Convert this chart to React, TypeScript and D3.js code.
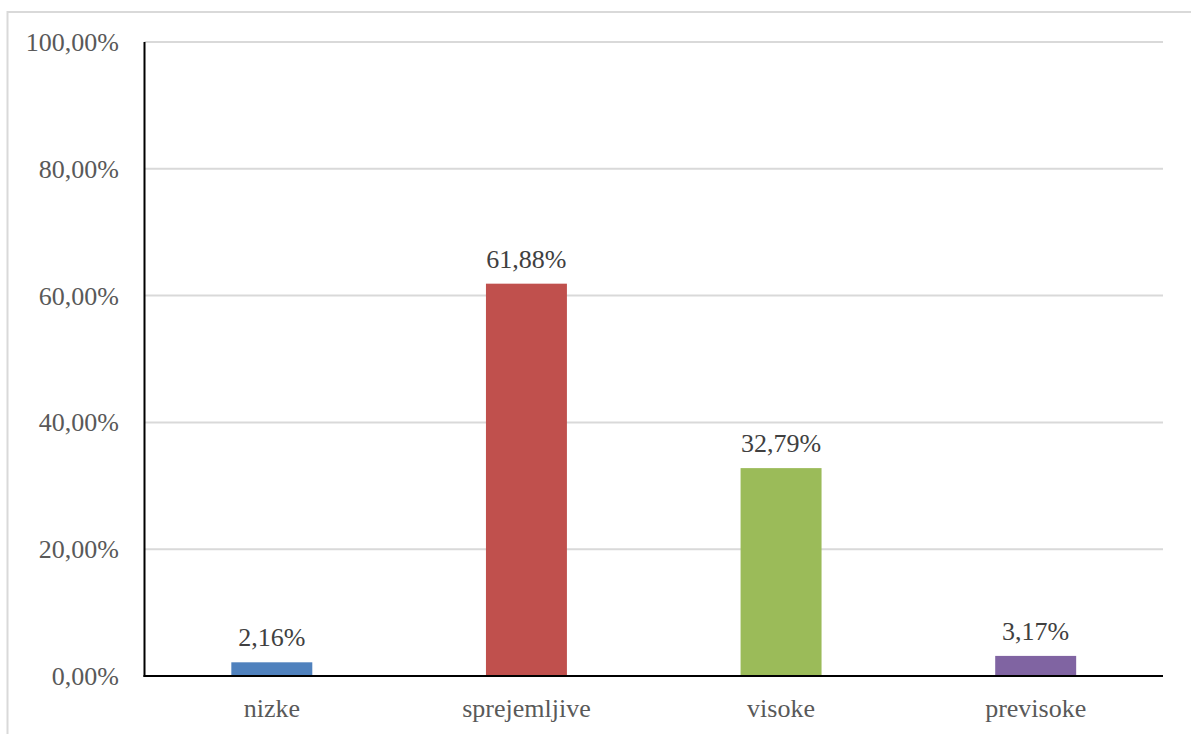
import React from "react";
import * as d3 from "d3";

// Shares of responses per category
const categories: string[] = ["nizke", "sprejemljive", "visoke", "previsoke"];
const shares: number[] = [0.0216, 0.6188, 0.3279, 0.0317];
const barColors: string[] = ["#4F81BD", "#C0504D", "#9BBB59", "#8064A2"];
const yTicks: number[] = [0, 0.2, 0.4, 0.6, 0.8, 1.0];

const W = 1191;
const H = 734;
const left = 144.5;
const right = 1163;
const top = 42;
const bottom = 676;
const FONT = "'Liberation Serif', 'Times New Roman', serif";

const fmt = (v: number) => (v * 100).toFixed(2).replace(".", ",") + "%";

export default function App() {
  const x = d3.scaleBand<string>().domain(categories).range([left, right]).paddingInner(0.682).paddingOuter(0.341);
  const y = d3.scaleLinear().domain([0, 1]).range([bottom, top]);

  return (
    <svg
      width={W}
      height={H}
      style={{ position: "absolute", left: 0, top: 0, background: "#fff" }}
    >
      {/* chart frame */}
      <rect x={7.5} y={12} width={W + 20} height={H + 20} fill="none" stroke="#d9d9d9" strokeWidth={2} />

      {/* horizontal gridlines */}
      {yTicks.filter((t) => t > 0).map((t) => (
        <line key={t} x1={left} x2={right} y1={y(t)} y2={y(t)} stroke="#d9d9d9" strokeWidth={2} />
      ))}

      {/* y tick labels */}
      {yTicks.map((t) => (
        <text
          key={"l" + t}
          x={119}
          y={y(t) + 9}
          textAnchor="end"
          fontFamily={FONT}
          fontSize={26}
          fill="#595959"
        >
          {fmt(t)}
        </text>
      ))}

      {/* bars */}
      {categories.map((c, i) => (
        <rect
          key={c}
          x={x(c)!}
          y={y(shares[i])}
          width={x.bandwidth()}
          height={bottom - y(shares[i])}
          fill={barColors[i]}
        />
      ))}

      {/* value labels */}
      {categories.map((c, i) => (
        <text
          key={"v" + c}
          x={x(c)! + x.bandwidth() / 2}
          y={y(shares[i]) - 16}
          textAnchor="middle"
          fontFamily={FONT}
          fontSize={26}
          fill="#404040"
        >
          {fmt(shares[i])}
        </text>
      ))}

      {/* axes */}
      <line x1={left} x2={left} y1={top} y2={bottom + 1} stroke="#000" strokeWidth={2} />
      <line x1={left - 1} x2={right} y1={bottom} y2={bottom} stroke="#000" strokeWidth={2} />

      {/* category labels */}
      {categories.map((c) => (
        <text
          key={"c" + c}
          x={x(c)! + x.bandwidth() / 2}
          y={717}
          textAnchor="middle"
          fontFamily={FONT}
          fontSize={26}
          fill="#595959"
        >
          {c}
        </text>
      ))}
    </svg>
  );
}
